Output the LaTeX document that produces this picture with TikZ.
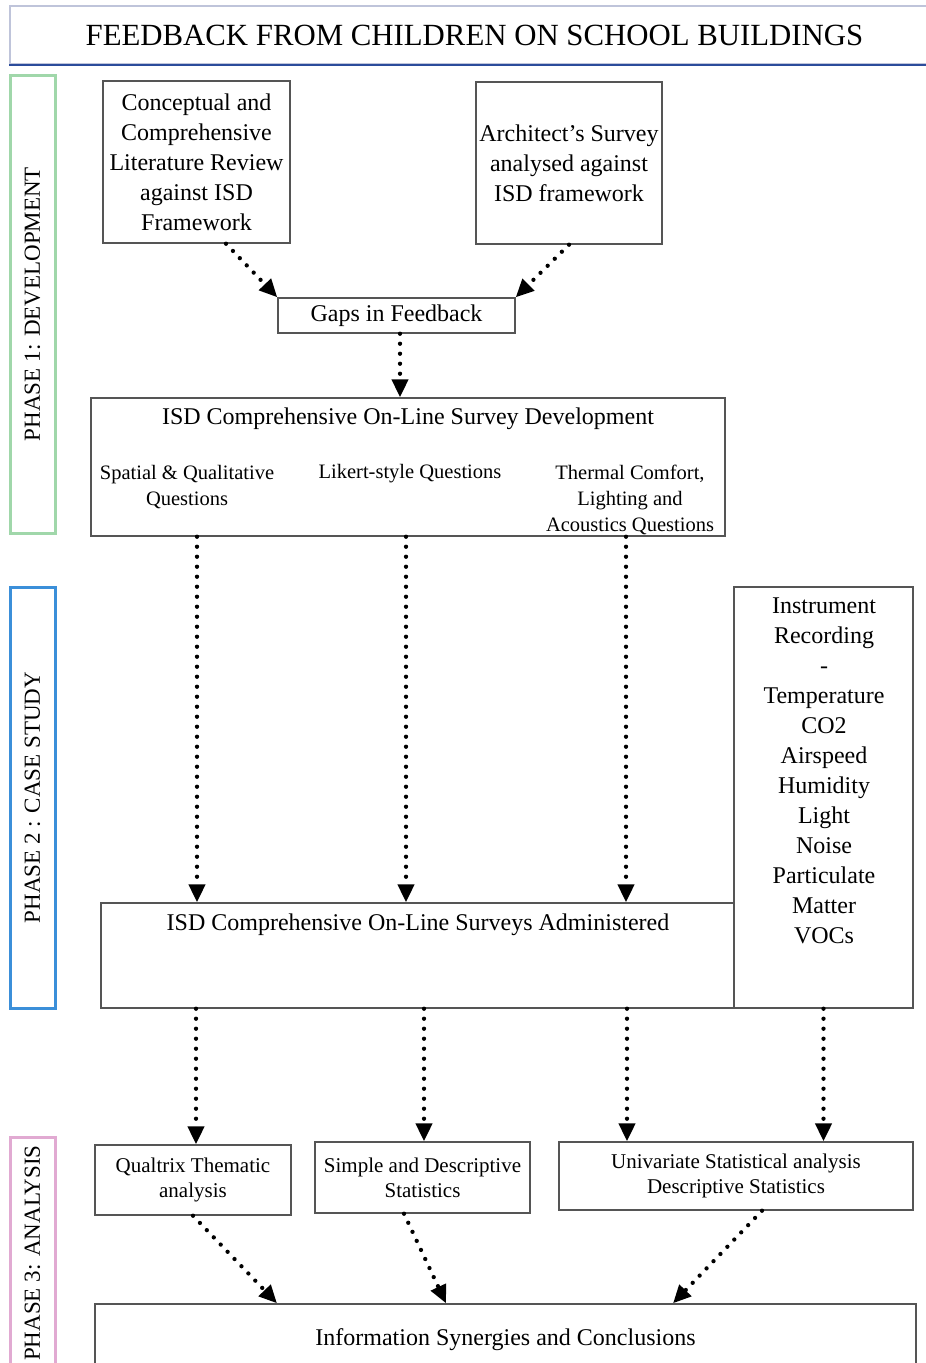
\documentclass[tikz,border=0pt]{standalone}
\usepackage{fontspec}
\setmainfont{Liberation Serif}
\usepackage{tikz}
\usetikzlibrary{arrows.meta,positioning,calc}
\definecolor{boxgray}{HTML}{555555}
\definecolor{titleedge}{HTML}{BFC4DA}
\definecolor{titleblue}{HTML}{2B4C9B}
\definecolor{phasegreen}{HTML}{A0D7AA}
\definecolor{phaseblue}{HTML}{3B8FD9}
\definecolor{phasepink}{HTML}{E1AAD2}

\tikzset{
  box/.style={draw=boxgray, line width=1.4pt, inner sep=0pt, align=center,
    font=\fontsize{24}{30}\selectfont},
  smallbox/.style={box, font=\fontsize{21}{25}\selectfont},
  plain/.style={inner sep=0pt, align=center, font=\fontsize{24}{30}\selectfont},
  subtext/.style={inner sep=0pt, align=center, font=\fontsize{20.5}{26}\selectfont},
  phasebox/.style={line width=3pt, rotate=90, inner sep=0pt, minimum height=45pt,
    font=\fontsize{23}{28}\selectfont},
  flow/.style={-{Triangle[length=18pt,width=16pt]}, line width=4.3pt,
    line cap=round, dash pattern=on 0pt off 10pt}
}

\begin{document}
\begin{tikzpicture}[x=1pt,y=-1pt]
    \useasboundingbox (0,0) rectangle (926,1363);

    % Title
    \node[draw=titleedge, line width=2pt, minimum width=929pt, minimum height=58pt,
      font=\fontsize{30.8}{36}\selectfont] (title) at (474.5,35) {FEEDBACK FROM CHILDREN ON SCHOOL BUILDINGS};
    \draw[titleblue, line width=1.5pt] (title.south west) -- (title.south east);

    % Phases
    \node[phasebox, draw=phasegreen, minimum width=458pt] (phaseone) at (32.5,304) {PHASE 1: DEVELOPMENT};
    \node[phasebox, draw=phaseblue, minimum width=421pt] (phasetwo) at (32.5,797.5) {PHASE 2 : CASE STUDY};
    \node[phasebox, draw=phasepink, minimum width=231pt] (phasethree) at (32.5,1253) {PHASE 3: ANALYSIS};

    % Phase 1 boxes
    \node[box, minimum width=187pt, minimum height=162pt] (litreview) at (196.5,162)
      {Conceptual and\\Comprehensive\\Literature Review\\against ISD\\Framework};
    \node[box, minimum width=186pt, minimum height=162pt] (archsurvey) at (569,163)
      {Architect’s Survey\\analysed against\\ISD framework};
    \node[box, minimum width=237pt, minimum height=35pt] (gaps) at (396.5,315.5) {Gaps in Feedback};
    \node[box, minimum width=634pt, minimum height=138pt] (devbox) at (408,467) {};
    \node[plain] (devtitle) at (408,419) {ISD Comprehensive On-Line Survey Development};
    \node[subtext] (spatial) at (187,487) {Spatial \& Qualitative\\Questions};
    \node[subtext] (likert) at (410,474) {Likert-style Questions};
    \node[subtext] (thermal) at (630,499.5) {Thermal Comfort,\\Lighting and\\Acoustics Questions};

    % Phase 2 boxes
    \node[box, minimum width=633pt, minimum height=105pt] (admin) at (417.5,955.5) {};
    \node[plain] (admintitle) at (418,925) {ISD Comprehensive On-Line Surveys Administered};
    \node[box, minimum width=179pt, minimum height=421pt] (instrument) at (823.5,797.5) {};
    \node[plain] (instrtext) at (824,771)
      {Instrument\\Recording\\-\\Temperature\\CO2\\Airspeed\\Humidity\\Light\\Noise\\Particulate\\Matter\\VOCs};

    % Phase 3 boxes
    \node[smallbox, minimum width=196pt, minimum height=70pt] (qualtrix) at (193,1180)
      {Qualtrix Thematic\\analysis};
    \node[smallbox, minimum width=215pt, minimum height=71pt] (simple) at (422.5,1177.5)
      {Simple and Descriptive\\Statistics};
    \node[smallbox, minimum width=354pt, minimum height=68pt] (univariate) at (736,1176)
      {Univariate Statistical analysis\\Descriptive Statistics};
    \node[box, minimum width=821pt, minimum height=72pt] (synergy) at (505.5,1340)
      {Information Synergies and Conclusions};

    % Arrows
    \draw[flow] ([xshift=29.5pt]litreview.south) -- (gaps.north west);
    \draw[flow] (archsurvey.south) -- (gaps.north east);
    \draw[flow] ([xshift=3.5pt]gaps.south) -- ([xshift=3.5pt]gaps.south |- devbox.north);
    \foreach \dx in {-211,-2,218}
      \draw[flow] ([xshift=\dx pt]devbox.south) -- ([xshift=\dx pt]devbox.south |- admin.north);
    \draw[flow] ([xshift=3pt]qualtrix.north |- admin.south) -- ([xshift=3pt]qualtrix.north);
    \draw[flow] ([xshift=1.5pt]simple.north |- admin.south) -- ([xshift=1.5pt]simple.north);
    \draw[flow] ([xshift=-109pt]univariate.north |- admin.south) -- ([xshift=-109pt]univariate.north);
    \draw[flow] (instrument.south) -- (instrument.south |- univariate.north);
    \draw[flow] (qualtrix.south) -- ([xshift=-228.5pt]synergy.north);
    \draw[flow] ([xshift=-18.5pt]simple.south) -- ([xshift=-59.5pt]synergy.north);
    \draw[flow] ([xshift=26pt]univariate.south) -- ([xshift=167.5pt]synergy.north);
\end{tikzpicture}
\end{document}
